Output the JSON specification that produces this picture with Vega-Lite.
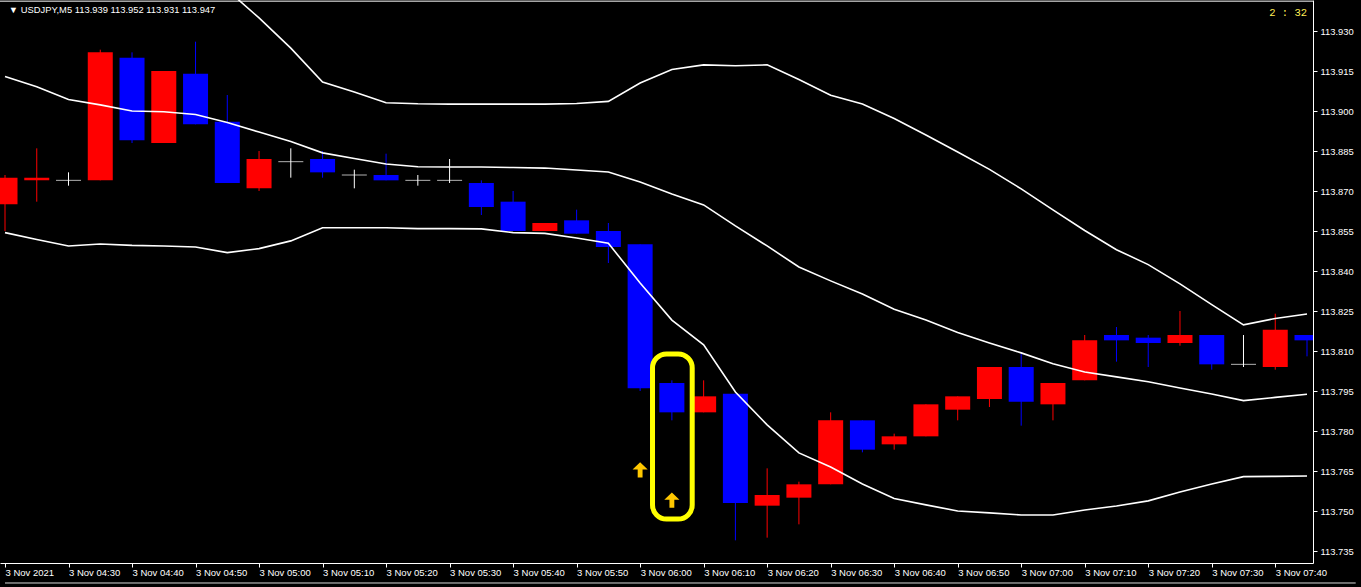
{
  "$schema": "https://vega.github.io/schema/vega-lite/v6.json",
  "width": 1313,
  "height": 563,
  "padding": {"left": 0, "top": 0, "right": 48, "bottom": 24},
  "autosize": "none",
  "background": "#000000",
  "config": {
    "view": {"stroke": null},
    "font": "Liberation Sans",
    "axis": {"grid": false, "domainColor": "#ffffff", "tickColor": "#ffffff", "labelColor": "#ffffff", "labelFont": "Liberation Sans"}
  },
  "datasets": {
    "candles": [
      {"t": "2021-11-03T04:20:00", "o": 113.865, "h": 113.876, "l": 113.855, "c": 113.875, "dir": "up"},
      {"t": "2021-11-03T04:25:00", "o": 113.874, "h": 113.886, "l": 113.866, "c": 113.875, "dir": "up"},
      {"t": "2021-11-03T04:30:00", "o": 113.874, "h": 113.877, "l": 113.872, "c": 113.874, "dir": "doji"},
      {"t": "2021-11-03T04:35:00", "o": 113.874, "h": 113.923, "l": 113.874, "c": 113.922, "dir": "up"},
      {"t": "2021-11-03T04:40:00", "o": 113.920, "h": 113.922, "l": 113.888, "c": 113.889, "dir": "down"},
      {"t": "2021-11-03T04:45:00", "o": 113.888, "h": 113.915, "l": 113.888, "c": 113.915, "dir": "up"},
      {"t": "2021-11-03T04:50:00", "o": 113.914, "h": 113.926, "l": 113.895, "c": 113.895, "dir": "down"},
      {"t": "2021-11-03T04:55:00", "o": 113.896, "h": 113.906, "l": 113.873, "c": 113.873, "dir": "down"},
      {"t": "2021-11-03T05:00:00", "o": 113.871, "h": 113.885, "l": 113.870, "c": 113.882, "dir": "up"},
      {"t": "2021-11-03T05:05:00", "o": 113.881, "h": 113.886, "l": 113.875, "c": 113.881, "dir": "doji"},
      {"t": "2021-11-03T05:10:00", "o": 113.882, "h": 113.885, "l": 113.875, "c": 113.877, "dir": "down"},
      {"t": "2021-11-03T05:15:00", "o": 113.876, "h": 113.878, "l": 113.871, "c": 113.876, "dir": "doji"},
      {"t": "2021-11-03T05:20:00", "o": 113.876, "h": 113.884, "l": 113.874, "c": 113.874, "dir": "down"},
      {"t": "2021-11-03T05:25:00", "o": 113.874, "h": 113.876, "l": 113.872, "c": 113.874, "dir": "doji"},
      {"t": "2021-11-03T05:30:00", "o": 113.874, "h": 113.882, "l": 113.873, "c": 113.874, "dir": "doji"},
      {"t": "2021-11-03T05:35:00", "o": 113.873, "h": 113.874, "l": 113.861, "c": 113.864, "dir": "down"},
      {"t": "2021-11-03T05:40:00", "o": 113.866, "h": 113.870, "l": 113.855, "c": 113.855, "dir": "down"},
      {"t": "2021-11-03T05:45:00", "o": 113.855, "h": 113.858, "l": 113.855, "c": 113.858, "dir": "up"},
      {"t": "2021-11-03T05:50:00", "o": 113.859, "h": 113.863, "l": 113.854, "c": 113.854, "dir": "down"},
      {"t": "2021-11-03T05:55:00", "o": 113.855, "h": 113.858, "l": 113.843, "c": 113.849, "dir": "down"},
      {"t": "2021-11-03T06:00:00", "o": 113.850, "h": 113.850, "l": 113.795, "c": 113.796, "dir": "down"},
      {"t": "2021-11-03T06:05:00", "o": 113.798, "h": 113.799, "l": 113.784, "c": 113.787, "dir": "down"},
      {"t": "2021-11-03T06:10:00", "o": 113.787, "h": 113.799, "l": 113.787, "c": 113.793, "dir": "up"},
      {"t": "2021-11-03T06:15:00", "o": 113.794, "h": 113.794, "l": 113.739, "c": 113.753, "dir": "down"},
      {"t": "2021-11-03T06:20:00", "o": 113.752, "h": 113.766, "l": 113.740, "c": 113.756, "dir": "up"},
      {"t": "2021-11-03T06:25:00", "o": 113.755, "h": 113.761, "l": 113.745, "c": 113.760, "dir": "up"},
      {"t": "2021-11-03T06:30:00", "o": 113.760, "h": 113.787, "l": 113.760, "c": 113.784, "dir": "up"},
      {"t": "2021-11-03T06:35:00", "o": 113.784, "h": 113.784, "l": 113.772, "c": 113.773, "dir": "down"},
      {"t": "2021-11-03T06:40:00", "o": 113.775, "h": 113.779, "l": 113.773, "c": 113.778, "dir": "up"},
      {"t": "2021-11-03T06:45:00", "o": 113.778, "h": 113.790, "l": 113.778, "c": 113.790, "dir": "up"},
      {"t": "2021-11-03T06:50:00", "o": 113.788, "h": 113.793, "l": 113.784, "c": 113.793, "dir": "up"},
      {"t": "2021-11-03T06:55:00", "o": 113.792, "h": 113.804, "l": 113.789, "c": 113.804, "dir": "up"},
      {"t": "2021-11-03T07:00:00", "o": 113.804, "h": 113.809, "l": 113.782, "c": 113.791, "dir": "down"},
      {"t": "2021-11-03T07:05:00", "o": 113.790, "h": 113.798, "l": 113.784, "c": 113.798, "dir": "up"},
      {"t": "2021-11-03T07:10:00", "o": 113.799, "h": 113.816, "l": 113.799, "c": 113.814, "dir": "up"},
      {"t": "2021-11-03T07:15:00", "o": 113.816, "h": 113.819, "l": 113.806, "c": 113.814, "dir": "down"},
      {"t": "2021-11-03T07:20:00", "o": 113.815, "h": 113.816, "l": 113.804, "c": 113.813, "dir": "down"},
      {"t": "2021-11-03T07:25:00", "o": 113.813, "h": 113.825, "l": 113.812, "c": 113.816, "dir": "up"},
      {"t": "2021-11-03T07:30:00", "o": 113.816, "h": 113.816, "l": 113.803, "c": 113.805, "dir": "down"},
      {"t": "2021-11-03T07:35:00", "o": 113.805, "h": 113.816, "l": 113.804, "c": 113.805, "dir": "doji"},
      {"t": "2021-11-03T07:40:00", "o": 113.804, "h": 113.824, "l": 113.803, "c": 113.818, "dir": "up"},
      {"t": "2021-11-03T07:45:00", "o": 113.816, "h": 113.816, "l": 113.808, "c": 113.814, "dir": "down"}
    ],
    "bands": [
      {"t": "2021-11-03T04:20:00", "up": null, "mid": 113.9129, "lo": 113.8544},
      {"t": "2021-11-03T04:25:00", "up": null, "mid": 113.9091, "lo": 113.8518},
      {"t": "2021-11-03T04:30:00", "up": null, "mid": 113.9043, "lo": 113.8494},
      {"t": "2021-11-03T04:35:00", "up": null, "mid": 113.9023, "lo": 113.8501},
      {"t": "2021-11-03T04:40:00", "up": null, "mid": 113.9000, "lo": 113.8496},
      {"t": "2021-11-03T04:45:00", "up": null, "mid": 113.8997, "lo": 113.8494},
      {"t": "2021-11-03T04:50:00", "up": null, "mid": 113.8987, "lo": 113.8490},
      {"t": "2021-11-03T04:55:00", "up": 113.9454, "mid": 113.8957, "lo": 113.8469},
      {"t": "2021-11-03T05:00:00", "up": 113.9349, "mid": 113.8921, "lo": 113.8484},
      {"t": "2021-11-03T05:05:00", "up": 113.9236, "mid": 113.8886, "lo": 113.8513},
      {"t": "2021-11-03T05:10:00", "up": 113.9109, "mid": 113.8843, "lo": 113.8562},
      {"t": "2021-11-03T05:15:00", "up": 113.9071, "mid": 113.8822, "lo": 113.8562},
      {"t": "2021-11-03T05:20:00", "up": 113.9031, "mid": 113.8801, "lo": 113.8562},
      {"t": "2021-11-03T05:25:00", "up": 113.9027, "mid": 113.8791, "lo": 113.8559},
      {"t": "2021-11-03T05:30:00", "up": 113.9026, "mid": 113.8790, "lo": 113.8559},
      {"t": "2021-11-03T05:35:00", "up": 113.9026, "mid": 113.8790, "lo": 113.8558},
      {"t": "2021-11-03T05:40:00", "up": 113.9026, "mid": 113.8788, "lo": 113.8544},
      {"t": "2021-11-03T05:45:00", "up": 113.9026, "mid": 113.8786, "lo": 113.8541},
      {"t": "2021-11-03T05:50:00", "up": 113.9028, "mid": 113.8779, "lo": 113.8524},
      {"t": "2021-11-03T05:55:00", "up": 113.9036, "mid": 113.8771, "lo": 113.8504},
      {"t": "2021-11-03T06:00:00", "up": 113.9105, "mid": 113.8734, "lo": 113.8355},
      {"t": "2021-11-03T06:05:00", "up": 113.9156, "mid": 113.8689, "lo": 113.8216},
      {"t": "2021-11-03T06:10:00", "up": 113.9173, "mid": 113.8648, "lo": 113.8123},
      {"t": "2021-11-03T06:15:00", "up": 113.9170, "mid": 113.8569, "lo": 113.7946},
      {"t": "2021-11-03T06:20:00", "up": 113.9173, "mid": 113.8494, "lo": 113.7823},
      {"t": "2021-11-03T06:25:00", "up": 113.9118, "mid": 113.8415, "lo": 113.7718},
      {"t": "2021-11-03T06:30:00", "up": 113.9059, "mid": 113.8363, "lo": 113.7665},
      {"t": "2021-11-03T06:35:00", "up": 113.9026, "mid": 113.8314, "lo": 113.7601},
      {"t": "2021-11-03T06:40:00", "up": 113.8972, "mid": 113.8257, "lo": 113.7547},
      {"t": "2021-11-03T06:45:00", "up": 113.8910, "mid": 113.8216, "lo": 113.7523},
      {"t": "2021-11-03T06:50:00", "up": 113.8846, "mid": 113.8169, "lo": 113.7500},
      {"t": "2021-11-03T06:55:00", "up": 113.8781, "mid": 113.8130, "lo": 113.7493},
      {"t": "2021-11-03T07:00:00", "up": 113.8708, "mid": 113.8093, "lo": 113.7485},
      {"t": "2021-11-03T07:05:00", "up": 113.8629, "mid": 113.8052, "lo": 113.7485},
      {"t": "2021-11-03T07:10:00", "up": 113.8552, "mid": 113.8021, "lo": 113.7504},
      {"t": "2021-11-03T07:15:00", "up": 113.8480, "mid": 113.8003, "lo": 113.7519},
      {"t": "2021-11-03T07:20:00", "up": 113.8424, "mid": 113.7985, "lo": 113.7538},
      {"t": "2021-11-03T07:25:00", "up": 113.8352, "mid": 113.7961, "lo": 113.7571},
      {"t": "2021-11-03T07:30:00", "up": 113.8274, "mid": 113.7939, "lo": 113.7601},
      {"t": "2021-11-03T07:35:00", "up": 113.8198, "mid": 113.7914, "lo": 113.7629},
      {"t": "2021-11-03T07:40:00", "up": 113.8222, "mid": 113.7926, "lo": 113.7630},
      {"t": "2021-11-03T07:45:00", "up": 113.8239, "mid": 113.7938, "lo": 113.7631}
    ],
    "signals": [
      {"t": "2021-11-03T06:00:00", "price": 113.7654},
      {"t": "2021-11-03T06:05:00", "price": 113.7541}
    ],
    "box": [
      {"t1": "2021-11-03T06:01:57", "t2": "2021-11-03T06:08:12", "p1": 113.8089, "p2": 113.7470}
    ],
    "notes": [
      {"label": "2 : 32"}
    ],
    "header": [
      {"label": "▼ USDJPY,M5  113.939 113.952 113.931 113.947"}
    ]
  },
  "layer": [
    {
      "data": {"name": "candles"},
      "mark": {"type": "rule", "clip": true, "strokeWidth": 1},
      "encoding": {
        "x": {
          "field": "t", "type": "temporal",
          "scale": {"domain": [{"year": 2021, "month": 11, "date": 3, "hours": 4, "minutes": 20}, {"year": 2021, "month": 11, "date": 3, "hours": 7, "minutes": 45, "seconds": 9, "milliseconds": 375}], "nice": false},
          "axis": {
            "orient": "bottom",
            "values": [
              {"year": 2021, "month": 11, "date": 3, "hours": 4, "minutes": 20},
              {"year": 2021, "month": 11, "date": 3, "hours": 4, "minutes": 30},
              {"year": 2021, "month": 11, "date": 3, "hours": 4, "minutes": 40},
              {"year": 2021, "month": 11, "date": 3, "hours": 4, "minutes": 50},
              {"year": 2021, "month": 11, "date": 3, "hours": 5, "minutes": 0},
              {"year": 2021, "month": 11, "date": 3, "hours": 5, "minutes": 10},
              {"year": 2021, "month": 11, "date": 3, "hours": 5, "minutes": 20},
              {"year": 2021, "month": 11, "date": 3, "hours": 5, "minutes": 30},
              {"year": 2021, "month": 11, "date": 3, "hours": 5, "minutes": 40},
              {"year": 2021, "month": 11, "date": 3, "hours": 5, "minutes": 50},
              {"year": 2021, "month": 11, "date": 3, "hours": 6, "minutes": 0},
              {"year": 2021, "month": 11, "date": 3, "hours": 6, "minutes": 10},
              {"year": 2021, "month": 11, "date": 3, "hours": 6, "minutes": 20},
              {"year": 2021, "month": 11, "date": 3, "hours": 6, "minutes": 30},
              {"year": 2021, "month": 11, "date": 3, "hours": 6, "minutes": 40},
              {"year": 2021, "month": 11, "date": 3, "hours": 6, "minutes": 50},
              {"year": 2021, "month": 11, "date": 3, "hours": 7, "minutes": 0},
              {"year": 2021, "month": 11, "date": 3, "hours": 7, "minutes": 10},
              {"year": 2021, "month": 11, "date": 3, "hours": 7, "minutes": 20},
              {"year": 2021, "month": 11, "date": 3, "hours": 7, "minutes": 30},
              {"year": 2021, "month": 11, "date": 3, "hours": 7, "minutes": 40}
            ],
            "labelExpr": "timeFormat(datum.value, '%H:%M') == '04:20' ? '3 Nov 2021' : timeFormat(datum.value, '%-d %b %H:%M')",
            "labelAlign": "left",
            "labelBaseline": "top",
            "labelPadding": 0,
            "labelFontSize": 9.5,
            "labelFlush": false,
            "labelOverlap": false,
            "labelBound": false,
            "tickSize": 4,
            "domainWidth": 1,
            "title": null
          }
        },
        "y": {
          "field": "l", "type": "quantitative",
          "scale": {"domain": [113.7305, 113.94163], "nice": false, "zero": false},
          "axis": {
            "orient": "right",
            "values": [113.735, 113.75, 113.765, 113.78, 113.795, 113.81, 113.825, 113.84, 113.855, 113.87, 113.885, 113.9, 113.915, 113.93],
            "format": ".3f",
            "labelFontSize": 9.4,
            "labelPadding": 3,
            "labelAlign": "left",
            "labelBaseline": "middle",
            "tickSize": 4,
            "domainWidth": 1,
            "labelOverlap": false,
            "labelFlush": false,
            "title": null
          }
        },
        "y2": {"field": "h"},
        "color": {"field": "dir", "type": "nominal", "scale": {"domain": ["up", "down", "doji"], "range": ["#ff0000", "#0000ff", "#ffffff"]}, "legend": null}
      }
    },
    {
      "data": {"name": "candles"},
      "transform": [{"filter": "datum.dir != 'doji'"}],
      "mark": {"type": "bar", "width": 25, "clip": true},
      "encoding": {
        "x": {"field": "t", "type": "temporal"},
        "y": {"field": "o", "type": "quantitative"},
        "y2": {"field": "c"},
        "color": {"field": "dir", "type": "nominal", "legend": null}
      }
    },
    {
      "data": {"name": "candles"},
      "transform": [{"filter": "datum.dir == 'doji'"}],
      "mark": {"type": "tick", "orient": "horizontal", "size": 25, "thickness": 1, "color": "#ffffff", "clip": true},
      "encoding": {
        "x": {"field": "t", "type": "temporal"},
        "y": {"field": "c", "type": "quantitative"}
      }
    },
    {
      "data": {"name": "bands"},
      "mark": {"type": "line", "color": "#ffffff", "strokeWidth": 1.6, "clip": true},
      "encoding": {
        "x": {"field": "t", "type": "temporal"},
        "y": {"field": "up", "type": "quantitative"}
      }
    },
    {
      "data": {"name": "bands"},
      "mark": {"type": "line", "color": "#ffffff", "strokeWidth": 1.6, "clip": true},
      "encoding": {
        "x": {"field": "t", "type": "temporal"},
        "y": {"field": "mid", "type": "quantitative"}
      }
    },
    {
      "data": {"name": "bands"},
      "mark": {"type": "line", "color": "#ffffff", "strokeWidth": 1.6, "clip": true},
      "encoding": {
        "x": {"field": "t", "type": "temporal"},
        "y": {"field": "lo", "type": "quantitative"}
      }
    },
    {
      "data": {"name": "box"},
      "mark": {"type": "rect", "filled": false, "color": "#ffff00", "strokeWidth": 5, "cornerRadius": 14, "clip": true},
      "encoding": {
        "x": {"field": "t1", "type": "temporal"},
        "x2": {"field": "t2"},
        "y": {"field": "p1", "type": "quantitative"},
        "y2": {"field": "p2"}
      }
    },
    {
      "data": {"name": "signals"},
      "mark": {"type": "point", "shape": "M0,-1L1,-0.05L0.32,-0.05L0.32,1L-0.32,1L-0.32,-0.05L-1,-0.05Z", "filled": true, "color": "#ffc800", "size": 230, "opacity": 1, "clip": true},
      "encoding": {
        "x": {"field": "t", "type": "temporal"},
        "y": {"field": "price", "type": "quantitative"}
      }
    },
    {
      "data": {"name": "notes"},
      "mark": {"type": "text", "align": "right", "baseline": "middle", "font": "Liberation Mono", "fontSize": 10.5, "color": "#ffee55"},
      "encoding": {
        "x": {"datum": {"year": 2021, "month": 11, "date": 3, "hours": 7, "minutes": 45, "seconds": 0}, "type": "temporal"},
        "y": {"datum": 113.9368, "type": "quantitative"},
        "text": {"field": "label"}
      }
    },
    {
      "data": {"name": "header"},
      "mark": {"type": "text", "align": "left", "baseline": "middle", "font": "Liberation Sans", "fontSize": 9.4, "color": "#ffffff"},
      "encoding": {
        "x": {"datum": {"year": 2021, "month": 11, "date": 3, "hours": 4, "minutes": 20, "seconds": 36}, "type": "temporal"},
        "y": {"datum": 113.9379, "type": "quantitative"},
        "text": {"field": "label"}
      }
    },
    {
      "data": {"values": [{}]},
      "mark": {"type": "rule", "color": "#ffffff", "strokeWidth": 1},
      "encoding": {
        "y": {"datum": 113.9412, "type": "quantitative"}
      }
    },
    {
      "data": {"values": [{}]},
      "mark": {"type": "rule", "color": "#d8d8d8", "strokeWidth": 1},
      "encoding": {
        "x": {"datum": {"year": 2021, "month": 11, "date": 3, "hours": 4, "minutes": 20}, "type": "temporal"},
        "x2": {"datum": {"year": 2021, "month": 11, "date": 3, "hours": 7, "minutes": 52, "seconds": 40}},
        "y": {"datum": 113.7230, "type": "quantitative"}
      }
    }
  ]
}
